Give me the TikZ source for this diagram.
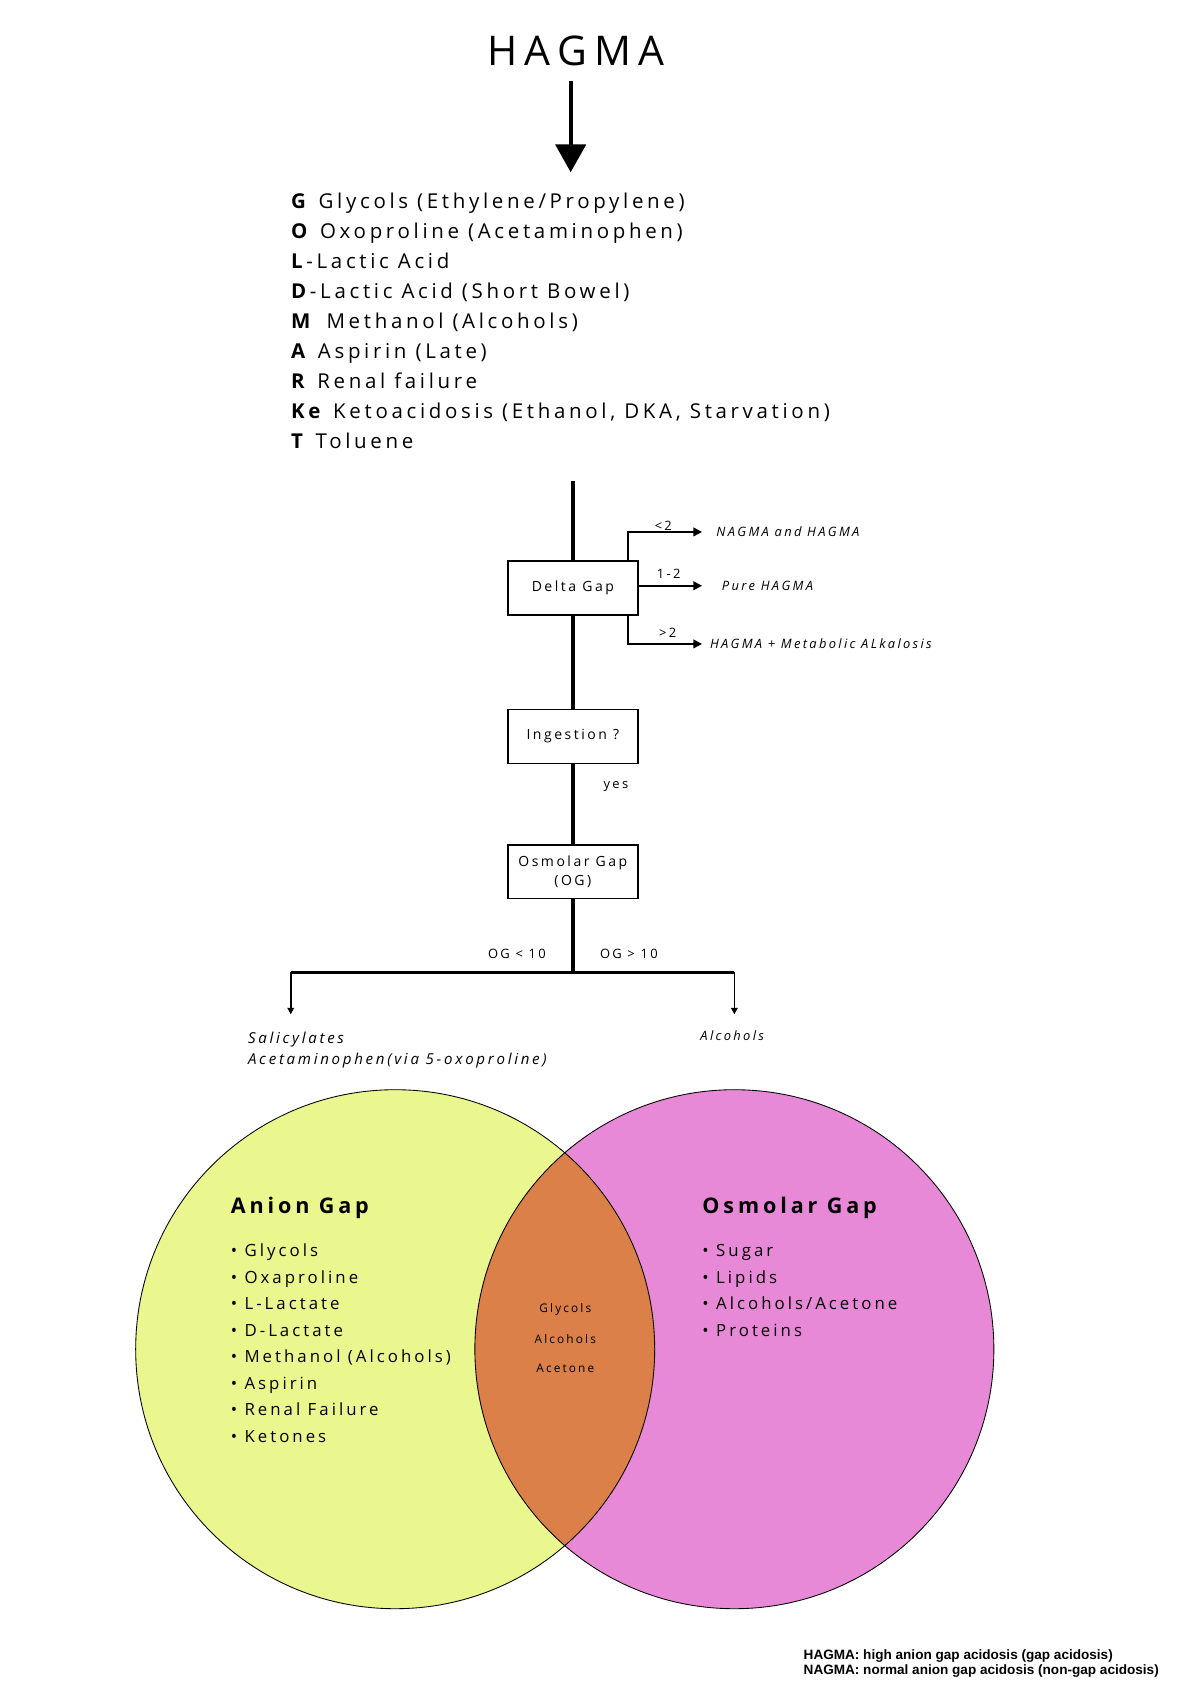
\documentclass[tikz,border=0pt]{standalone}
\usepackage{fontspec}
\setmainfont{Open Sans}
\newfontfamily\ls[LetterSpace=18]{Open Sans}
\newfontfamily\lsb[LetterSpace=18]{Open Sans}
\newfontfamily\arial{Liberation Sans}
\usetikzlibrary{arrows.meta}
\begin{document}
\begin{tikzpicture}[x=0.5pt,y=-0.5pt,
  box/.style={draw,thick,minimum width=60.5pt,minimum height=25pt,inner sep=0pt,font=\ls\fontsize{6.5}{8.5}\selectfont,align=center},
  lst/.style={anchor=base west,inner sep=0pt,font=\ls\fontsize{9.5}{11}\selectfont},
  sm/.style={inner sep=0pt,font=\ls\fontsize{6}{7}\selectfont},
  smi/.style={inner sep=0pt,font=\ls\itshape\fontsize{6}{7}\selectfont},
  main/.style={line width=1.6pt},
  br/.style={line width=0.8pt,-{Triangle[length=4pt,width=4pt]}},
  ven/.style={anchor=base west,inner sep=0pt,font=\ls\fontsize{7.8}{9}\selectfont}]
\useasboundingbox (0,0) rectangle (1105,1563);
\node[inner sep=0pt,font=\ls\fontsize{19}{22}\selectfont] (title) at (535,47) {HAGMA};
\coordinate (a1) at (530,75);
\coordinate (a2) at (530,160);
\draw[line width=2pt,-{Triangle[length=13pt,width=14pt]}] (a1) -- (a2);
\node[lst] (l0) at (270,194) {\textbf{G} Glycols (Ethylene/Propylene)};
\node[lst] (l1) at (270,221.8) {\textbf{O} Oxoproline (Acetaminophen)};
\node[lst] (l2) at (270,249.6) {\textbf{L}-Lactic Acid};
\node[lst] (l3) at (270,277.4) {\textbf{D}-Lactic Acid (Short Bowel)};
\node[lst] (l4) at (270,305.2) {\textbf{M}\, Methanol (Alcohols)};
\node[lst] (l5) at (270,333) {\textbf{A} Aspirin (Late)};
\node[lst] (l6) at (270,360.8) {\textbf{R} Renal failure};
\node[lst] (l7) at (270,388.6) {\textbf{Ke} Ketoacidosis (Ethanol, DKA, Starvation)};
\node[lst] (l8) at (270,416.4) {\textbf{T} Toluene};
\coordinate (top) at (532,447);
\node[box] (dg) at (532,546) {Delta Gap};
\node[box] (ing) at (532,684) {Ingestion ?};
\node[box] (og) at (532,809.5) {Osmolar Gap\\(OG)};
\coordinate (j) at (532,903);
\draw[main] (top) -- (dg.north) (dg.south) -- (ing.north) (ing.south) -- (og.north) (og.south) -- (j);
\coordinate (lft) at (270,903); \coordinate (rgt) at (682,903);
\coordinate (le) at (270,942); \coordinate (re) at (682,942);
\draw[line width=1.6pt] (lft) -- (rgt);
\draw[br,-{Triangle[length=3pt,width=3pt]}] (lft) -- (le);
\draw[br,-{Triangle[length=3pt,width=3pt]}] (rgt) -- (re);
\node[sm] at (480,886) {OG < 10};
\node[sm] at (584,886) {OG > 10};
\node[sm] at (572,730) {yes};
\node[smi,anchor=west] (t1) at (665,494) {NAGMA and HAGMA};
\node[smi,anchor=west] (t2) at (670,544) {Pure HAGMA};
\node[smi,anchor=west] (t3) at (659,598) {HAGMA + Metabolic ALkalosis};
\draw[br] (dg.north -| 583,0) |- (t1.west -| 652,0);
\draw[br] (dg.east |- t2) -- (t2.west -| 652,0);
\draw[br] (dg.south -| 583,0) |- (t3.west -| 652,0);
\node[sm] at (616,488) {<2};
\node[sm] at (621,533) {1-2};
\node[sm] at (620,588) {>2};
\node[smi,anchor=west,align=left,font=\ls\itshape\fontsize{7}{9.5}\selectfont] (sal) at (230,975) {Salicylates\\Acetaminophen(via 5-oxoproline)};
\node[smi] (alc) at (680,962) {Alcohols};
\fill[fill={rgb,255:red,234;green,246;blue,142}] (367,1253) circle (241);
\fill[fill={rgb,255:red,232;green,137;blue,216}] (682,1253) circle (241);
\begin{scope}
\clip (367,1253) circle (241);
\fill[fill={rgb,255:red,219;green,128;blue,73}] (682,1253) circle (241);
\end{scope}
\draw[thin] (367,1253) circle (241) (682,1253) circle (241);
\node[ven,font=\lsb\bfseries\fontsize{10}{12}\selectfont] (ag) at (214,1127) {Anion Gap};
\node[ven,font=\lsb\bfseries\fontsize{10}{12}\selectfont] (ogt) at (652,1127) {Osmolar Gap};
\foreach \t [count=\i from 0] in {Glycols,Oxaproline,L-Lactate,D-Lactate,Methanol (Alcohols),Aspirin,Renal Failure,Ketones}
  \node[ven] (a\i) at (214,{1167+24.6*\i}) {•\ \t};
\foreach \t [count=\i from 0] in {Sugar,Lipids,Alcohols/Acetone,Proteins}
  \node[ven] (o\i) at (652,{1167+24.6*\i}) {•\ \t};
\node[sm,font=\ls\fontsize{5.5}{7}\selectfont] at (525,1216) {Glycols};
\node[sm,font=\ls\fontsize{5.5}{7}\selectfont] at (525,1244) {Alcohols};
\node[sm,font=\ls\fontsize{5.5}{7}\selectfont] at (525,1271) {Acetone};
\node[anchor=north west,align=left,inner sep=0pt,font=\arial\bfseries\fontsize{6.3}{6.8}\selectfont] (fn) at (746,1532) {HAGMA: high anion gap acidosis (gap acidosis)\\NAGMA: normal anion gap acidosis (non-gap acidosis)};
\end{tikzpicture}
\end{document}
